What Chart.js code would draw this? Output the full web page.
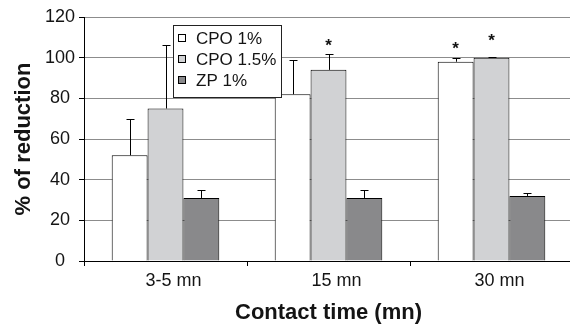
<!DOCTYPE html>
<html>
<head>
<meta charset="utf-8">
<script src="https://cdn.jsdelivr.net/npm/chart.js@4.4.1/dist/chart.umd.min.js"></script>
<style>
  html, body { margin: 0; padding: 0; background: #fff; overflow: hidden; }
  #wrap { width: 575px; height: 327px; position: relative; }
</style>
</head>
<body>
<div id="wrap"><canvas id="myChart"></canvas></div>
<script>
// categories and series
var categories = ['3-5 mn', '15 mn', '30 mn'];
var seriesNames = ['CPO 1%', 'CPO 1.5%', 'ZP 1%'];
var cpo1 = [52, 82, 98];
var cpo15 = [75, 94, 100];
var zp1 = [31, 31, 32];
// upper error (SD)
var cpo1Err = [18, 17, 2];
var cpo15Err = [31, 8, 0.5];
var zp1Err = [4, 4, 1.5];
// asterisk positions (value units), null = none
var cpo1Star = [null, null, 106];
var cpo15Star = [null, 107.5, 110];
var zp1Star = [null, null, null];
var yTicks = [0, 20, 40, 60, 80, 100, 120];

var FONT = "'Liberation Sans', Arial, Helvetica, sans-serif";
var TXT = '#141414';
var colors = ['#ffffff', '#d1d2d4', '#89898b'];

Chart.defaults.font.family = FONT;
Chart.defaults.color = TXT;

var errorBars = {
    id: 'errorBars',
    afterDatasetsDraw: function(chart) {
        var c = chart.ctx, ys = chart.scales.y;
        c.save();
        c.strokeStyle = '#000';
        c.lineWidth = 1;
        chart.data.datasets.forEach(function(ds, i) {
            var meta = chart.getDatasetMeta(i);
            meta.data.forEach(function(bar, j) {
                var x = Math.round(bar.x) + 0.5;
                var top = Math.round(ys.getPixelForValue(ds.data[j] + ds.err[j])) + 0.5;
                c.beginPath();
                c.moveTo(x, bar.y);
                c.lineTo(x, top);
                c.moveTo(x - 4, top);
                c.lineTo(x + 4, top);
                c.stroke();
                if (ds.star[j] != null) {
                    c.fillStyle = '#111';
                    c.font = 'bold 17px ' + FONT;
                    c.textAlign = 'center';
                    c.textBaseline = 'alphabetic';
                    c.fillText('*', bar.x, ys.getPixelForValue(ds.star[j]) + 9);
                }
            });
        });
        c.restore();
    }
};

var boxLegend = {
    id: 'boxLegend',
    afterDraw: function(chart) {
        var c = chart.ctx, a = chart.chartArea;
        var x0 = a.left + 89, y0 = a.top + 8, w = 108, h = 72;
        c.save();
        c.fillStyle = '#fff';
        c.fillRect(x0, y0, w, h);
        c.strokeStyle = '#222';
        c.lineWidth = 1;
        c.strokeRect(x0 + 0.5, y0 + 0.5, w, h);
        c.font = '17px ' + FONT;
        c.textBaseline = 'middle';
        c.textAlign = 'left';
        seriesNames.forEach(function(name, i) {
            var cy = y0 + 13 + i * 21;
            c.fillStyle = colors[i];
            c.fillRect(x0 + 5.5, cy - 3.5, 7, 7);
            c.strokeStyle = '#000';
            c.strokeRect(x0 + 5.5, cy - 3.5, 7, 7);
            c.fillStyle = TXT;
            c.fillText(name, x0 + 23, cy + 1);
        });
        c.restore();
    }
};

function mkSet(i, data, err, star) {
    return {
        label: seriesNames[i],
        data: data,
        err: err,
        star: star,
        backgroundColor: colors[i],
        borderColor: '#000',
        borderWidth: 1,
        categoryPercentage: 0.66,
        barPercentage: 1.0
    };
}

var ctx = document.getElementById('myChart').getContext('2d');
var chart = new Chart(ctx, {
    type: 'bar',
    data: {
        labels: categories,
        datasets: [
            mkSet(0, cpo1, cpo1Err, cpo1Star),
            mkSet(1, cpo15, cpo15Err, cpo15Star),
            mkSet(2, zp1, zp1Err, zp1Star)
        ]
    },
    options: {
        responsive: true,
        maintainAspectRatio: false,
        animation: false,
        layout: { padding: { top: 17, right: 2, left: 0, bottom: 0 } },
        plugins: { legend: { display: false }, tooltip: { enabled: false } },
        scales: {
            x: {
                grid: { display: true, drawOnChartArea: false, color: '#000', tickLength: 5, offset: true },
                border: { color: '#000', width: 1 },
                ticks: { font: { size: 18 }, color: TXT, padding: 4, labelOffset: 8 },
                title: { display: true, text: 'Contact time (mn)', font: { size: 22, weight: 'bold' }, color: TXT, padding: { top: 0, bottom: 1 } },
                afterFit: function(s) { s.height = 66; }
            },
            y: {
                min: 0,
                max: 120,
                afterBuildTicks: function(s) { s.ticks = yTicks.map(function(v) { return { value: v }; }); },
                grid: { color: '#8c8c8c', tickColor: '#000', tickLength: 5 },
                border: { color: '#000', width: 1 },
                ticks: { font: { size: 18 }, color: TXT, padding: 4, crossAlign: 'center' },
                title: { display: true, text: '% of reduction', font: { size: 22, weight: 'bold' }, color: TXT, padding: { top: 11, bottom: 0 } },
                afterFit: function(s) { s.width = 84; }
            }
        }
    },
    plugins: [errorBars, boxLegend]
});
</script>
</body>
</html>
